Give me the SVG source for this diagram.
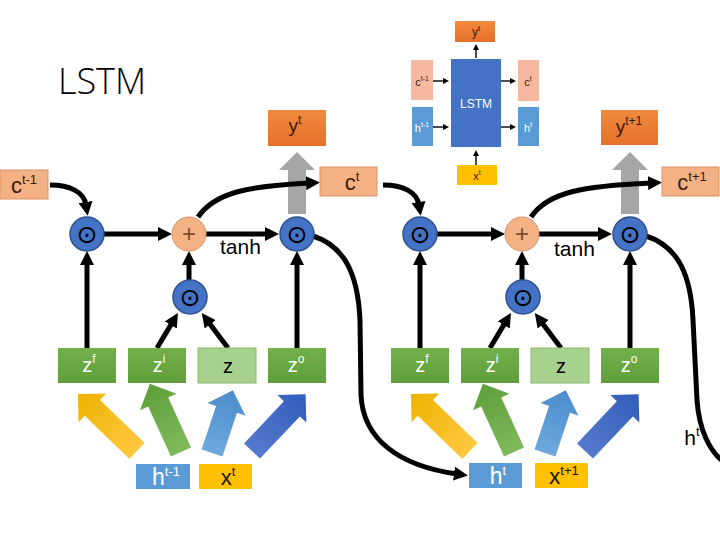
<svg xmlns="http://www.w3.org/2000/svg" width="720" height="540" viewBox="0 0 720 540">
<defs>
<style>
text{font-family:"Liberation Sans",Arial,sans-serif}
.conn{fill:none;stroke:#000;stroke-width:5}
.thin{fill:none;stroke:#000;stroke-width:1.4}
.cbox{fill:#F4B183;stroke:#D9936A;stroke-width:1}
.cboxs{fill:#F6B9A0}
.ybox{fill:url(#gOr)}
.zbox{fill:url(#gGr)}
.zl{fill:#A9D18E;stroke:#8DB870;stroke-width:1}
.hbox{fill:#5B9BD5}
.xbox{fill:#FFC000}
.gate{fill:#4472C4;stroke:#2F528F;stroke-width:1.5}
.plus{fill:#F4B183;stroke:#D9936A;stroke-width:1}
.gray{fill:#A6A6A6}
.odot{font-family:"DejaVu Sans",sans-serif;font-size:25px;fill:#000;text-anchor:middle}
.pl{font-family:"Liberation Sans",sans-serif;font-size:24px;fill:#7A4B30;text-anchor:middle}
.lbl{text-anchor:middle}
.w{fill:#fff}
.k{fill:#000}
</style>
<linearGradient id="gOr" x1="0" y1="0" x2="0" y2="1"><stop offset="0" stop-color="#F08A3E"/><stop offset="1" stop-color="#E5702A"/></linearGradient>
<linearGradient id="gGr" x1="0" y1="0" x2="0" y2="1"><stop offset="0" stop-color="#72B04A"/><stop offset="1" stop-color="#5F9E3A"/></linearGradient>
<linearGradient id="gY" x1="0" y1="0" x2="1" y2="0"><stop offset="0" stop-color="#FFC840"/><stop offset="1" stop-color="#EDB300"/></linearGradient>
<linearGradient id="gG" x1="0" y1="0" x2="1" y2="0"><stop offset="0" stop-color="#80BA5C"/><stop offset="1" stop-color="#5E9F3A"/></linearGradient>
<linearGradient id="gB" x1="0" y1="0" x2="1" y2="0"><stop offset="0" stop-color="#6FA8DE"/><stop offset="1" stop-color="#4A8CCB"/></linearGradient>
<linearGradient id="gD" x1="0" y1="0" x2="1" y2="0"><stop offset="0" stop-color="#5679CC"/><stop offset="1" stop-color="#305EBA"/></linearGradient>
<marker id="ah" markerUnits="userSpaceOnUse" viewBox="0 0 14 14" markerWidth="14" markerHeight="14" refX="3" refY="7" orient="auto"><path d="M0,0 L14,7 L0,14z" fill="#000"/></marker>
<marker id="sm" markerUnits="userSpaceOnUse" viewBox="0 0 6 6" markerWidth="6" markerHeight="6" refX="1" refY="3" orient="auto"><path d="M0,0 L6,3 L0,6z" fill="#000"/></marker>
<polygon id="aY" points="0,-11 62,-11 62,-20 82,0 62,20 62,11 0,11" fill="url(#gY)"/>
<polygon id="aG" points="0,-11 55,-11 55,-20 75,0 55,20 55,11 0,11" fill="url(#gG)"/>
<polygon id="aB" points="0,-11 46,-11 46,-20 66,0 46,20 46,11 0,11" fill="url(#gB)"/>
<polygon id="aD" points="0,-11 58,-11 58,-20 78,0 58,20 58,11 0,11" fill="url(#gD)"/>
</defs>
<rect width="720" height="540" fill="#fff"/>

<text x="58" y="94" font-size="36" font-weight="300" style="font-family:'Open Sans','Liberation Sans',sans-serif" fill="#000">LSTM</text>

<!-- inset -->
<g id="inset">
<rect x="455" y="21" width="40" height="21" class="ybox"/>
<text x="476" y="36" class="lbl" font-size="12" fill="#3B1A08">y<tspan dy="-5" font-size="8">t</tspan></text>
<rect x="451" y="59" width="50" height="88" fill="#4472C4"/>
<text x="476" y="108" class="lbl w" font-size="12">LSTM</text>
<rect x="411" y="60" width="22" height="40" class="cboxs"/>
<text x="422" y="86" class="lbl" font-size="11" fill="#3B1A08">c<tspan dy="-5" font-size="7">t-1</tspan></text>
<rect x="412" y="107" width="21" height="39" class="hbox"/>
<text x="422" y="132" class="lbl w" font-size="11">h<tspan dy="-5" font-size="7">t-1</tspan></text>
<rect x="518" y="60" width="21" height="41" class="cboxs"/>
<text x="528" y="86" class="lbl" font-size="11" fill="#3B1A08">c<tspan dy="-5" font-size="7">t</tspan></text>
<rect x="518" y="107" width="21" height="39" class="hbox"/>
<text x="528" y="132" class="lbl w" font-size="11">h<tspan dy="-5" font-size="7">t</tspan></text>
<rect x="457" y="165" width="40" height="20" class="xbox"/>
<text x="477" y="180" class="lbl" font-size="11" fill="#3B1A08">x<tspan dy="-5" font-size="7">t</tspan></text>
<path class="thin" d="M476,58 L476,49" marker-end="url(#sm)"/>
<path class="thin" d="M433,81 L444,81" marker-end="url(#sm)"/>
<path class="thin" d="M433,127 L444,127" marker-end="url(#sm)"/>
<path class="thin" d="M501,81 L511,81" marker-end="url(#sm)"/>
<path class="thin" d="M501,127 L511,127" marker-end="url(#sm)"/>
<path class="thin" d="M476,165 L476,155" marker-end="url(#sm)" stroke-width="2"/>
</g>

<!-- block arrows -->
<g id="blockarrows">
<use href="#aY" transform="translate(137,451) rotate(-136)"/>
<use href="#aG" transform="translate(181,452) rotate(-114.5)"/>
<use href="#aB" transform="translate(212,453) rotate(-71.6)"/>
<use href="#aD" transform="translate(252,451) rotate(-46.6)"/>
<use href="#aY" transform="translate(470,451) rotate(-136)"/>
<use href="#aG" transform="translate(514,452) rotate(-114.5)"/>
<use href="#aB" transform="translate(545,453) rotate(-71.6)"/>
<use href="#aD" transform="translate(585,451) rotate(-46.6)"/>
</g>

<!-- gray output arrows -->
<polygon class="gray" points="288,214 306,214 306,170 315,170 297,152 279,170 288,170"/>
<polygon class="gray" points="621,214 639,214 639,170 648,170 630,152 612,170 621,170"/>

<!-- connectors -->
<g id="connectors">
<path class="conn" d="M50,185 C70,185 84,192 86,205" marker-end="url(#ah)"/>
<path class="conn" d="M104,234 L161,234" marker-end="url(#ah)"/>
<path class="conn" d="M206,234 L268,234" marker-end="url(#ah)"/>
<path class="conn" d="M198,217 C215,192 250,186 309,183" marker-end="url(#ah)"/>
<path class="conn" d="M87,348 L87,262" marker-end="url(#ah)"/>
<path class="conn" d="M297,348 L297,262" marker-end="url(#ah)"/>
<path class="conn" d="M189,280 L189,262" marker-end="url(#ah)"/>
<path class="conn" d="M157,348 L172.3,322.4" marker-end="url(#ah)"/>
<path class="conn" d="M228,348 L208.4,321.9" marker-end="url(#ah)"/>
<path class="conn" d="M313,236 C345,246 358,275 360,320 L361,395 C363,440 400,466 457,474" marker-end="url(#ah)"/>

<path class="conn" d="M383,185 C403,185 417,192 419,205" marker-end="url(#ah)"/>
<path class="conn" d="M437,234 L494,234" marker-end="url(#ah)"/>
<path class="conn" d="M539,234 L601,234" marker-end="url(#ah)"/>
<path class="conn" d="M531,217 C548,192 583,186 651,183" marker-end="url(#ah)"/>
<path class="conn" d="M420,348 L420,262" marker-end="url(#ah)"/>
<path class="conn" d="M630,348 L630,262" marker-end="url(#ah)"/>
<path class="conn" d="M522,280 L522,262" marker-end="url(#ah)"/>
<path class="conn" d="M490,348 L505.3,322.4" marker-end="url(#ah)"/>
<path class="conn" d="M561,348 L541.4,321.9" marker-end="url(#ah)"/>
<path class="conn" d="M646,236 C678,246 691,275 693,320 L697,400 C699,430 710,452 724,462"/>
</g>

<!-- left cell nodes -->
<g id="c_tm1"><rect x="0" y="170" width="48" height="29" class="cbox"/><text x="24" y="193" class="lbl" font-size="22" fill="#3B1A08">c<tspan dy="-9" font-size="13">t-1</tspan></text></g>
<g id="c_t"><rect x="320" y="167" width="57" height="29" class="cbox"/><text x="352" y="190" class="lbl" font-size="22" fill="#3B1A08">c<tspan dy="-9" font-size="13">t</tspan></text></g>
<g id="y_t"><rect x="268" y="110" width="58" height="36" class="ybox"/><text x="295" y="132" class="lbl" font-size="19" fill="#3B1A08">y<tspan dy="-8" font-size="12">t</tspan></text></g>
<g id="gate_f1"><circle cx="87" cy="234" r="17" class="gate"/><text x="87" y="243" class="odot">⊙</text></g>
<g id="plus1"><circle cx="189" cy="234" r="17" class="plus"/><text x="189" y="242" class="pl">+</text></g>
<g id="gate_o1"><circle cx="297" cy="234" r="17" class="gate"/><text x="297" y="243" class="odot">⊙</text></g>
<g id="gate_i1"><circle cx="190" cy="297" r="17" class="gate"/><text x="190" y="306" class="odot">⊙</text></g>
<text x="220" y="254" font-size="21" fill="#000">tanh</text>
<g id="zf1"><rect x="58" y="348" width="58" height="35" class="zbox"/><text x="89" y="372" class="lbl w" font-size="20">z<tspan dy="-9" font-size="12">f</tspan></text></g>
<g id="zi1"><rect x="128" y="348" width="58" height="35" class="zbox"/><text x="159" y="372" class="lbl w" font-size="20">z<tspan dy="-9" font-size="12">i</tspan></text></g>
<g id="z1"><rect x="198" y="348" width="58" height="35" class="zl"/><text x="228" y="373" class="lbl k" font-size="20">z</text></g>
<g id="zo1"><rect x="268" y="348" width="58" height="35" class="zbox"/><text x="296" y="372" class="lbl w" font-size="20">z<tspan dy="-9" font-size="12">o</tspan></text></g>
<g id="h_tm1"><rect x="136" y="464" width="54" height="25" class="hbox"/><text x="166" y="485" class="lbl w" font-size="23">h<tspan dy="-9" font-size="13">t-1</tspan></text></g>
<g id="x_t"><rect x="199" y="464" width="53" height="25" class="xbox"/><text x="228" y="485" class="lbl" font-size="22" fill="#1a1200">x<tspan dy="-9" font-size="13">t</tspan></text></g>

<!-- right cell nodes -->
<g id="c_tp1"><rect x="662" y="167" width="57" height="29" class="cbox"/><text x="692" y="190" class="lbl" font-size="22" fill="#3B1A08">c<tspan dy="-9" font-size="13">t+1</tspan></text></g>
<g id="y_tp1"><rect x="601" y="110" width="57" height="35" class="ybox"/><text x="629" y="133" class="lbl" font-size="19" fill="#3B1A08">y<tspan dy="-8" font-size="12">t+1</tspan></text></g>
<g id="gate_f2"><circle cx="420" cy="234" r="17" class="gate"/><text x="420" y="243" class="odot">⊙</text></g>
<g id="plus2"><circle cx="522" cy="234" r="17" class="plus"/><text x="522" y="242" class="pl">+</text></g>
<g id="gate_o2"><circle cx="630" cy="234" r="17" class="gate"/><text x="630" y="243" class="odot">⊙</text></g>
<g id="gate_i2"><circle cx="523" cy="297" r="17" class="gate"/><text x="523" y="306" class="odot">⊙</text></g>
<text x="554" y="256" font-size="21" fill="#000">tanh</text>
<g id="zf2"><rect x="391" y="348" width="58" height="35" class="zbox"/><text x="422" y="372" class="lbl w" font-size="20">z<tspan dy="-9" font-size="12">f</tspan></text></g>
<g id="zi2"><rect x="461" y="348" width="58" height="35" class="zbox"/><text x="492" y="372" class="lbl w" font-size="20">z<tspan dy="-9" font-size="12">i</tspan></text></g>
<g id="z2"><rect x="531" y="348" width="58" height="35" class="zl"/><text x="561" y="373" class="lbl k" font-size="20">z</text></g>
<g id="zo2"><rect x="601" y="348" width="58" height="35" class="zbox"/><text x="629" y="372" class="lbl w" font-size="20">z<tspan dy="-9" font-size="12">o</tspan></text></g>
<g id="h_t"><rect x="469" y="463" width="53" height="25" class="hbox"/><text x="498" y="484" class="lbl w" font-size="23">h<tspan dy="-9" font-size="13">t</tspan></text></g>
<g id="x_tp1"><rect x="535" y="463" width="53" height="25" class="xbox"/><text x="564" y="484" class="lbl" font-size="22" fill="#1a1200">x<tspan dy="-9" font-size="13">t+1</tspan></text></g>
<text x="692" y="445" class="lbl k" font-size="21">h<tspan dy="-9" font-size="13">t</tspan></text>
</svg>
